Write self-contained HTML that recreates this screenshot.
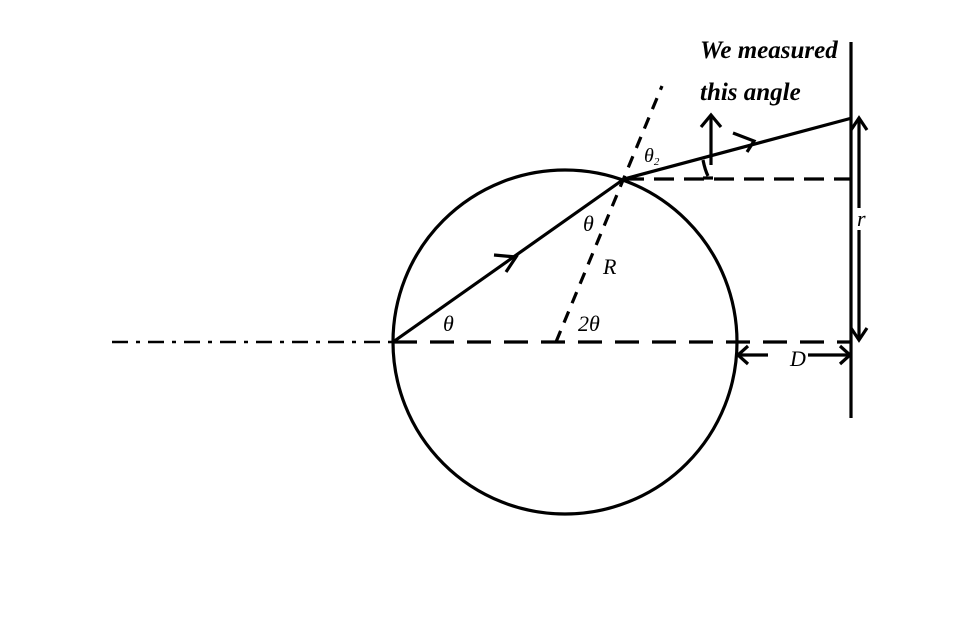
<!DOCTYPE html>
<html><head><style>body{margin:0;background:#fff}svg{display:block}</style></head><body>
<svg width="980" height="643" viewBox="0 0 980 643" xmlns="http://www.w3.org/2000/svg">
<g fill="none" stroke="#000" stroke-width="3.2">
<circle cx="565" cy="342" r="172"/>
<line x1="112" y1="342" x2="393" y2="342" stroke-width="2.5" stroke-dasharray="16,8,4,8"/>
<line x1="393" y1="342" x2="850" y2="342" stroke-dasharray="24,13"/>
<line x1="393" y1="342" x2="624" y2="179"/>
<polyline points="494,255 516,257 506,272"/>
<line x1="556" y1="342" x2="662" y2="86" stroke-dasharray="12,9"/>
<line x1="624" y1="179" x2="852" y2="118"/>
<line x1="624" y1="179" x2="850" y2="179" stroke-dasharray="20,10"/>
<line x1="851" y1="42" x2="851" y2="418"/>
<line x1="859" y1="118" x2="859" y2="340"/>
<polyline points="851,130 859,118 867,130"/>
<polyline points="851,328 859,340 867,328"/>
<line x1="738" y1="355" x2="850" y2="355" stroke-dasharray="30,40,40"/>
<polyline points="748,346 738,355 748,364"/>
<polyline points="840,346 850,355 840,364"/>
<line x1="711" y1="115" x2="711" y2="165"/>
<polyline points="701,127 711,115 721,127"/>
<line x1="703" y1="178" x2="713" y2="178"/>
<path d="M703,160 Q705,170 708,176"/>
<polyline points="733,133 754,141 747,152"/>
</g>
<rect x="854" y="208" width="14" height="22" fill="#fff"/>
<g font-family="Liberation Serif, serif" font-style="italic" font-size="22" fill="#000">
<text x="700" y="58" font-weight="bold" font-size="25">We measured</text>
<text x="700" y="100" font-weight="bold" font-size="25">this angle</text>
<text x="644" y="162" font-size="20">θ<tspan font-size="11" dy="3">2</tspan></text>
<text x="583" y="231">θ</text>
<text x="603" y="274">R</text>
<text x="443" y="331">θ</text>
<text x="578" y="331">2θ</text>
<text x="790" y="366">D</text>
<text x="857" y="226">r</text>
</g>
</svg>
</body></html>
